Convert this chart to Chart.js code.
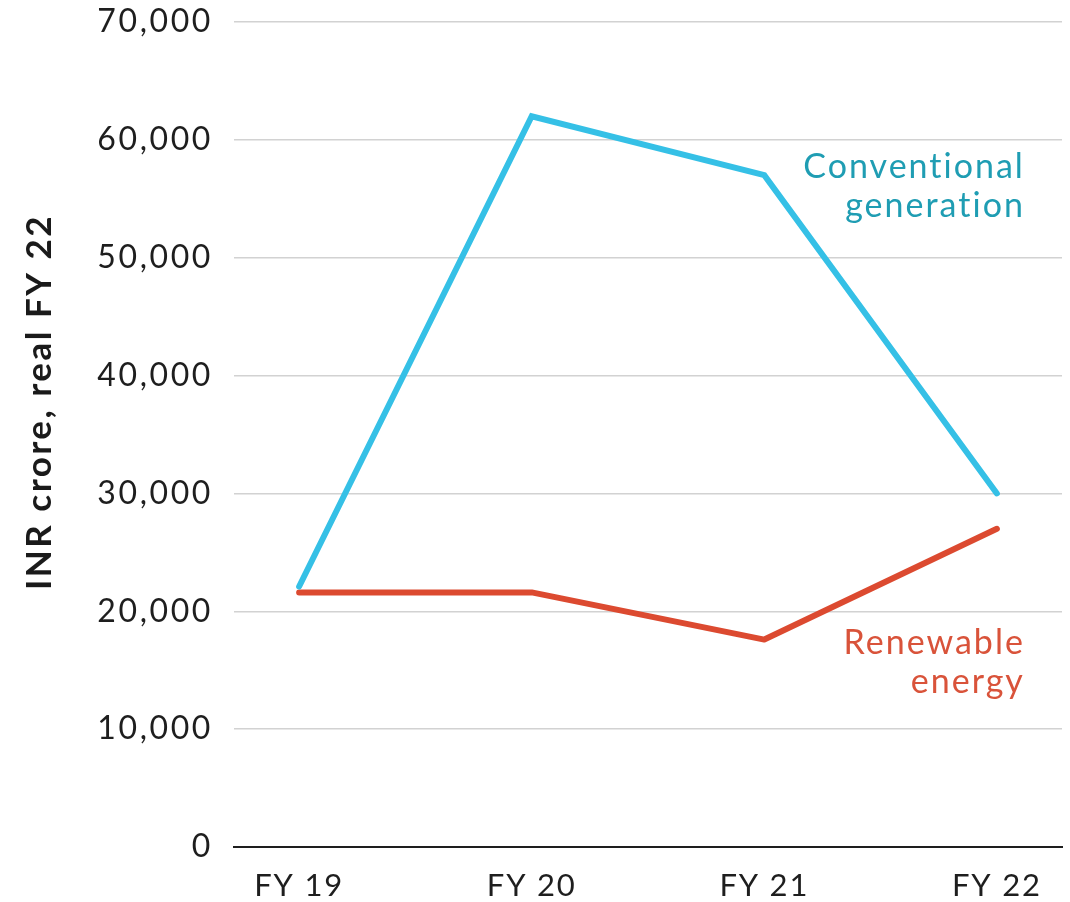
<!DOCTYPE html>
<html lang="en">
<head>
    <meta charset="UTF-8">
    <title>Power sector investment</title>
    <script src="https://cdn.jsdelivr.net/npm/chart.js@4.4.9/dist/chart.umd.js"></script>
    <style>
        html, body { margin: 0; padding: 0; background: #fff; }
        .chart-container { width: 1070px; height: 902px; position: relative; }
    </style>
</head>
<body>
    <div class="chart-container">
        <canvas id="line-chart"></canvas>
    </div>
    <script>
        // Values in INR crore, real FY 22
        const years = ['FY 19', 'FY 20', 'FY 21', 'FY 22'];
        const conventional = [22100, 62000, 57000, 30000];
        const renewable = [21600, 21600, 17600, 27000];
        const yTicks = [0, 10000, 20000, 30000, 40000, 50000, 60000, 70000];

        const FONT = 'Lato, "Open Sans", sans-serif';

        // Lato is narrower than the house font, so open up the tracking a bit
        const spacedLabels = {
            id: 'spacedLabels',
            afterLayout(chart) {
                const spacing = { x: '1.8px', y: '2.6px' };
                Object.keys(spacing).forEach(id => {
                    const scale = chart.scales[id];
                    if (scale._spaced) return;
                    const orig = scale.drawLabels;
                    scale.drawLabels = function (area) {
                        const ctx = this.ctx;
                        const prev = ctx.letterSpacing;
                        ctx.letterSpacing = spacing[id];
                        orig.call(this, area);
                        ctx.letterSpacing = prev;
                    };
                    scale._spaced = true;
                });
            }
        };

        // Series names written next to the lines, plus the rotated axis title
        const annotations = {
            id: 'annotations',
            afterDatasetsDraw(chart) {
                const { ctx, scales: { x, y } } = chart;
                ctx.save();
                ctx.font = '34px ' + FONT;
                ctx.letterSpacing = '2px';
                ctx.textAlign = 'right';
                ctx.textBaseline = 'middle';
                const right = x.getPixelForValue(3) + 28;

                ctx.fillStyle = '#1f9db3';
                ctx.fillText('Conventional', right, y.getPixelForValue(57700));
                ctx.fillText('generation', right, y.getPixelForValue(54400));

                ctx.fillStyle = '#d9533a';
                ctx.fillText('Renewable', right, y.getPixelForValue(17300));
                ctx.fillText('energy', right, y.getPixelForValue(14000));

                ctx.translate(40, 402);
                ctx.rotate(-Math.PI / 2);
                ctx.textAlign = 'center';
                ctx.fillStyle = '#1a1a1a';
                ctx.font = 'bold 35px ' + FONT;
                ctx.letterSpacing = '2.5px';
                ctx.fillText('INR crore, real FY 22', 0, 0);
                ctx.restore();
            }
        };

        new Chart(document.getElementById('line-chart'), {
            type: 'line',
            data: {
                datasets: [
                    {
                        label: 'Conventional generation',
                        data: conventional.map((v, i) => ({ x: i, y: v })),
                        borderColor: '#35c0e6',
                        borderWidth: 6,
                        borderCapStyle: 'round',
                        borderJoinStyle: 'miter',
                        pointRadius: 0,
                        tension: 0
                    },
                    {
                        label: 'Renewable energy',
                        data: renewable.map((v, i) => ({ x: i, y: v })),
                        borderColor: '#dc4a30',
                        borderWidth: 6,
                        borderCapStyle: 'round',
                        borderJoinStyle: 'round',
                        pointRadius: 0,
                        tension: 0
                    }
                ]
            },
            options: {
                responsive: true,
                maintainAspectRatio: false,
                animation: false,
                layout: { padding: { top: 22, right: 8, left: 0, bottom: 0 } },
                plugins: {
                    legend: { display: false },
                    tooltip: { enabled: false }
                },
                scales: {
                    x: {
                        type: 'linear',
                        min: -0.28,
                        max: 3.28,
                        afterBuildTicks: (scale) => {
                            scale.ticks = years.map((_, i) => ({ value: i }));
                        },
                        afterFit: (scale) => { scale.height = 55; },
                        grid: { display: false, drawTicks: false },
                        border: { display: true, color: '#1e1e1e', width: 2 },
                        ticks: {
                            color: '#1e1e1e',
                            font: { family: FONT, size: 31 },
                            padding: 20,
                            maxRotation: 0,
                            autoSkip: false,
                            callback: (v) => years[v]
                        }
                    },
                    y: {
                        min: 0,
                        max: 70000,
                        afterBuildTicks: (scale) => {
                            scale.ticks = yTicks.map(v => ({ value: v }));
                        },
                        afterFit: (scale) => {
                            scale.width = 234;
                            // the top label may hang above the plot; layout padding covers it
                            scale.paddingTop = 0;
                            scale.paddingBottom = 0;
                        },
                        grid: {
                            color: (c) => c.tick && c.tick.value === 0 ? 'rgba(0,0,0,0)' : '#d2d2d2',
                            lineWidth: 1.5,
                            drawTicks: false
                        },
                        border: { display: false },
                        ticks: {
                            color: '#1e1e1e',
                            font: { family: FONT, size: 32 },
                            padding: 21,
                            callback: (v) => v.toLocaleString('en-US')
                        }
                    }
                }
            },
            plugins: [spacedLabels, annotations]
        });
    </script>
</body>
</html>
